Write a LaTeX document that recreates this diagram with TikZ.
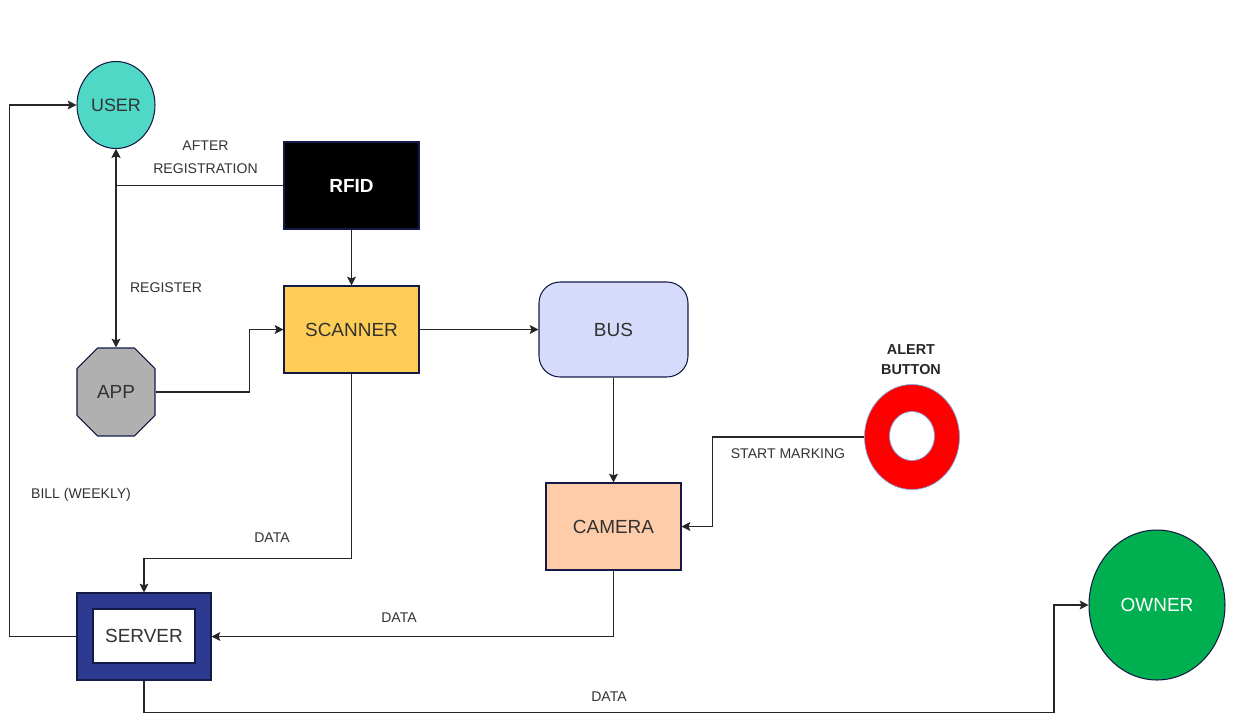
\documentclass[tikz,border=0pt]{standalone}
\usepackage{fontspec}
\setmainfont{Liberation Sans}
\usepackage{tikz}
\usetikzlibrary{shapes.geometric, shapes.misc, arrows.meta, positioning}
\definecolor{navyline}{RGB}{20, 26, 70}
\definecolor{textgray}{RGB}{50, 50, 50}
\definecolor{userteal}{RGB}{80, 216, 198}
\definecolor{scanyellow}{RGB}{255, 205, 85}
\definecolor{buslilac}{RGB}{214, 219, 251}
\definecolor{appgray}{RGB}{176, 176, 176}
\definecolor{campeach}{RGB}{255, 204, 170}
\definecolor{servblue}{RGB}{46, 58, 143}
\definecolor{ownergreen}{RGB}{0, 176, 80}
\definecolor{alertrim}{RGB}{126, 166, 224}

\begin{document}
\begin{tikzpicture}[x=0.02cm, y=-0.02cm,
  box/.style={draw=navyline, line width=0.6pt, minimum width=2.7cm, minimum height=1.74cm, font=\fontsize{10.8}{13}\selectfont, text=textgray},
  lbl/.style={font=\fontsize{8}{13}\selectfont, text=textgray, align=center},
  link/.style={draw=black!85, line width=0.6pt, -{Stealth[length=5pt, width=5pt, inset=1pt]}}]
  \useasboundingbox (0,0) rectangle (1235,724);

  % Users and devices
  \node[box, ellipse, fill=userteal, minimum width=1.56cm, minimum height=1.74cm, inner sep=0pt, font=\fontsize{10.2}{12}\selectfont] (user) at (116,105) {USER};
  \node[box, fill=black, text=white, font=\fontsize{10.8}{13}\selectfont\bfseries] (rfid) at (351.5,185.5) {RFID};
  \node[box, fill=scanyellow] (scanner) at (351.5,329.5) {SCANNER};
  \node[box, fill=buslilac, rounded corners=12pt, minimum width=2.98cm, minimum height=1.9cm] (bus) at (613.5,329.5) {BUS};
  \node[box, chamfered rectangle, chamfered rectangle xsep=0.28cm, chamfered rectangle ysep=0.28cm, fill=appgray, minimum width=1.56cm, minimum height=1.76cm, inner sep=0pt] (app) at (116,392) {APP};
  \node[box, fill=campeach] (camera) at (613.5,526.5) {CAMERA};

  % Server
  \node[box, fill=servblue, minimum width=2.68cm] (server) at (144,636.5) {};
  \node[box, fill=white, minimum width=2.04cm, minimum height=1.08cm] (servin) at (144,636) {SERVER};

  % Owner
  \node[box, ellipse, draw=navyline, fill=ownergreen, text=white, minimum width=2.72cm, minimum height=3cm] (owner) at (1157,605) {OWNER};

  % Alert button
  \node[ellipse, draw=alertrim, line width=0.4pt, fill=red, minimum width=1.9cm, minimum height=2.1cm] (alert) at (912,437) {};
  \node[ellipse, draw=alertrim, line width=0.4pt, fill=white, minimum width=0.9cm, minimum height=0.98cm] (alertin) at (912,436) {};
  \node[lbl, font=\fontsize{8.2}{11.5}\selectfont\bfseries, text=black!85] (alertlbl) at (911,360) {ALERT\\BUTTON};

  % Connectors
  \draw[link] (rfid.west) -| (user.south);
  \draw[link, {Stealth[length=5pt, width=5pt, inset=1pt]}-{Stealth[length=5pt, width=5pt, inset=1pt]}] (user.south) -- (app.north);
  \draw[link] (rfid.south) -- (scanner.north);
  \draw[link] (app.east) -- ++(94,0) |- (scanner.west);
  \draw[link] (scanner.east) -- (bus.west);
  \draw[link] (bus.south) -- (camera.north);
  \draw[link] (alert.west) -- ++(-152,0) |- (camera.east);
  \draw[link] (scanner.south) -- ++(0,185) -| (server.north);
  \draw[link] (camera.south) |- (server.east);
  \draw[link] (server.west) -- ++(-67,0) |- (user.west);
  \draw[link] (server.south) |- ++(910,32) |- (owner.west);

  % Labels
  \node[lbl] (afterlbl) at (205.5,157.5) {AFTER\\REGISTRATION};
  \node[lbl] (reglbl) at (166,288) {REGISTER};
  \node[lbl] (billlbl) at (81,495) {BILL (WEEKLY)};
  \node[lbl] (datalbla) at (272,538) {DATA};
  \node[lbl] (datalblb) at (399,618) {DATA};
  \node[lbl] (datalblc) at (609,697) {DATA};
  \node[lbl] (marklbl) at (788,454) {START MARKING};
\end{tikzpicture}
\end{document}
